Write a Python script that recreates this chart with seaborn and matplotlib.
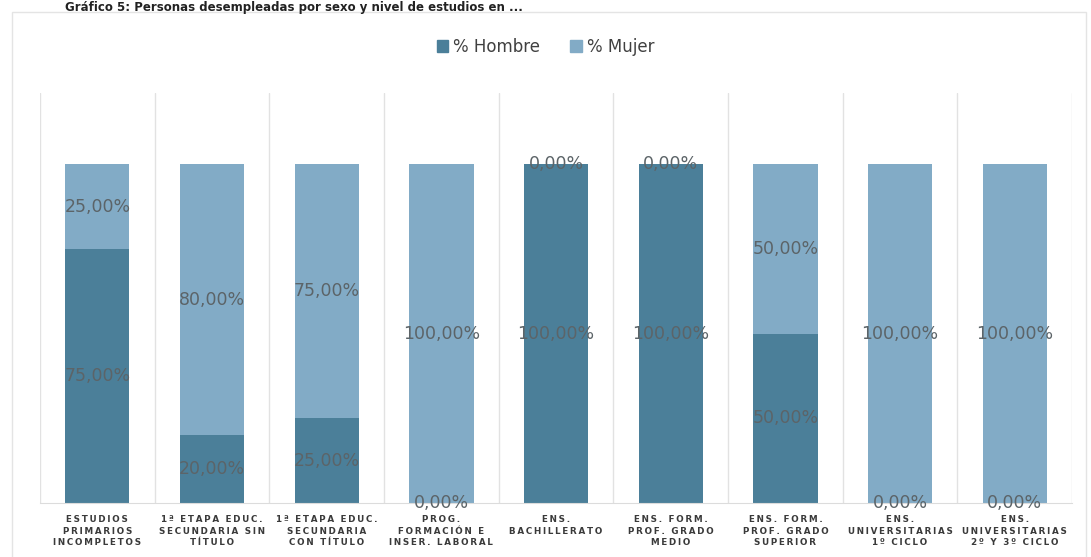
import numpy as np
import pandas as pd
import matplotlib.pyplot as plt
import seaborn as sns
from matplotlib.patches import Patch, Rectangle

# data
categorias = [
    "ESTUDIOS\nPRIMARIOS\nINCOMPLETOS",
    "1ª ETAPA EDUC.\nSECUNDARIA SIN\nTÍTULO",
    "1ª ETAPA EDUC.\nSECUNDARIA\nCON TÍTULO",
    "PROG.\nFORMACIÓN E\nINSER. LABORAL",
    "ENS.\nBACHILLERATO",
    "ENS. FORM.\nPROF. GRADO\nMEDIO",
    "ENS. FORM.\nPROF. GRADO\nSUPERIOR",
    "ENS.\nUNIVERSITARIAS\n1º CICLO",
    "ENS.\nUNIVERSITARIAS\n2º Y 3º CICLO",
]
pct_hombre = [75, 20, 25, 0, 100, 100, 50, 0, 0]
pct_mujer = [25, 80, 75, 100, 0, 0, 50, 100, 100]

COL_HOMBRE = "#4b7f99"
COL_MUJER = "#82abc6"
TXT = "#5c6468"


def espaciar(s):
    # wide letter spacing like the original axis labels
    return "\n".join("\u2009".join(line) for line in s.split("\n"))


def fmt(v):
    return f"{v:.2f}".replace(".", ",") + "%"


df = pd.DataFrame({"cat": categorias, "hombre": pct_hombre, "mujer": pct_mujer})
df["total"] = df["hombre"] + df["mujer"]

sns.set_style("white")
fig = plt.figure(figsize=(10.91, 5.57), dpi=100)
ax = fig.add_axes([0.0367, 0.097, 0.946, 0.736])

sns.barplot(data=df, x="cat", y="total", color=COL_MUJER, width=0.56,
            saturation=1, linewidth=0, edgecolor="none", ax=ax)
sns.barplot(data=df, x="cat", y="hombre", color=COL_HOMBRE, width=0.56,
            saturation=1, linewidth=0, edgecolor="none", ax=ax)

ax.set_ylim(0, 121)
ax.set_xlim(-0.5, len(categorias) - 0.5)
ax.set_yticks([])
ax.set_xlabel("")
ax.set_ylabel("")
ax.set_xticks(range(len(categorias)))
ax.set_xticklabels([espaciar(c) for c in categorias], fontsize=6.3,
                   fontweight="bold", color="#3a3a3a", va="top",
                   linespacing=1.35)
ax.tick_params(axis="x", length=0, pad=9)

# category separators
ax.set_xticks(np.arange(-0.5, len(categorias), 1), minor=True)
ax.grid(True, which="minor", axis="x", color="#e2e2e2", lw=1)
ax.tick_params(axis="x", which="minor", length=0)
for s in ["top", "right", "left"]:
    ax.spines[s].set_visible(False)
ax.spines["bottom"].set_color("#dcdcdc")

# value labels centred in each segment
for i, (h, m) in enumerate(zip(pct_hombre, pct_mujer)):
    ax.text(i, h / 2, fmt(h), ha="center", va="center", fontsize=12.5,
            color=TXT, clip_on=False)
    ax.text(i, h + m / 2, fmt(m), ha="center", va="center", fontsize=12.5,
            color=TXT, clip_on=False)

handles = [Patch(color=COL_HOMBRE, label="% Hombre"),
           Patch(color=COL_MUJER, label="% Mujer")]
fig.legend(handles=handles, loc="center", bbox_to_anchor=(0.5, 0.916),
           ncol=2, frameon=False, fontsize=12, handlelength=0.7,
           handleheight=0.7, handletextpad=0.3, columnspacing=1.8,
           labelcolor="#404040")

# outer chart frame and title of the scanned page
fig.patches.append(Rectangle((0.011, -0.01), 0.984, 0.988,
                             transform=fig.transFigure, fill=False,
                             edgecolor="#e4e4e4", lw=1))
fig.text(0.06, 0.998, "Gráfico 5: Personas desempleadas por sexo y nivel de "
         "estudios en ...", fontsize=8.5, fontweight="bold", color="#222222",
         ha="left", va="top")

fig.savefig("out.png", dpi=100)
